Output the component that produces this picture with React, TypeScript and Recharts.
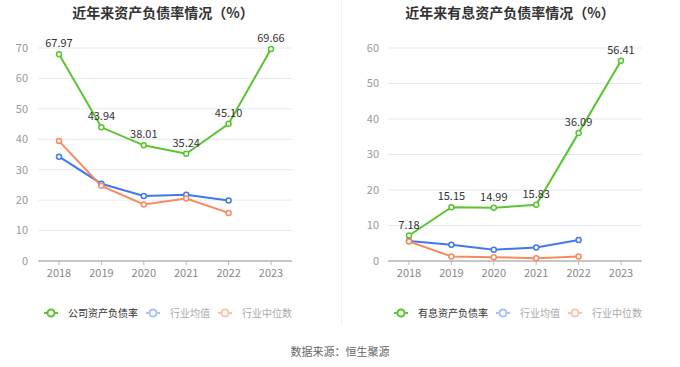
import { LineChart, Line, XAxis, YAxis, CartesianGrid, LabelList } from "recharts";

const years = ["2018", "2019", "2020", "2021", "2022", "2023"];

const debtRatio = [67.97, 43.94, 38.01, 35.24, 45.1, 69.66];
const debtAvg = [34.3, 25.4, 21.4, 21.8, 19.9, null];
const debtMedian = [39.4, 24.7, 18.6, 20.5, 15.8, null];

const interestRatio = [7.18, 15.15, 14.99, 15.83, 36.09, 56.41];
const interestAvg = [5.6, 4.6, 3.2, 3.8, 5.9, null];
const interestMedian = [5.5, 1.3, 1.05, 0.8, 1.3, null];

const leftTicks = [0, 10, 20, 30, 40, 50, 60, 70];
const rightTicks = [0, 10, 20, 30, 40, 50, 60];

const FONT = '"Noto Sans CJK SC", "Noto Sans", sans-serif';
const GREEN = "#5ac52f";
const BLUE = "#4178ee";
const ORANGE = "#f98a5e";

function buildRows(main: number[], avg: (number | null)[], median: (number | null)[]) {
  return years.map((year, i) => ({ year, main: main[i], avg: avg[i], median: median[i] }));
}

function LegendIcon({ color }: { color: string }) {
  return (
    <svg width={14} height={10} style={{ marginRight: 10 }}>
      <line x1={0} y1={5} x2={14} y2={5} stroke={color} strokeWidth={2} />
      <circle cx={7} cy={5} r={3.5} fill="#fff" stroke={color} strokeWidth={2} />
    </svg>
  );
}

function Panel({
  left,
  title,
  titleCenter,
  mainName,
  rows,
  ticks,
  legendLeft,
  yWidth,
  yMargin,
}: {
  left: number;
  title: string;
  titleCenter: number;
  mainName: string;
  rows: { year: string; main: number; avg: number | null; median: number | null }[];
  ticks: number[];
  legendLeft: number;
  yWidth: number;
  yMargin: number;
}) {
  const max = ticks[ticks.length - 1];
  return (
    <div style={{ position: "absolute", left, top: 0, width: 340, height: 367 }}>
      <div
        style={{
          position: "absolute",
          left: titleCenter - 150,
          width: 300,
          top: 2,
          textAlign: "center",
          fontSize: 14,
          fontWeight: "bold",
          color: "#333",
          whiteSpace: "nowrap",
        }}
      >
        {title}
      </div>
      <LineChart
        width={340}
        height={367}
        data={rows}
        margin={{ top: 48, right: 86 - yWidth, left: 0, bottom: 76 }}
        style={{ fontFamily: FONT }}
      >
        <CartesianGrid stroke="#e5e9f3" vertical={false} />
        <XAxis
          dataKey="year"
          padding={{ left: 21, right: 21 }}
          tick={{ fontSize: 11, fill: "#888" }}
          tickSize={4}
          tickMargin={4}
          stroke="#b8b8b8"
          tickLine={{ stroke: "#b8b8b8" }}
          axisLine={{ stroke: "#b8b8b8", strokeWidth: 1.5 }}
        />
        <YAxis
          width={yWidth}
          domain={[0, max]}
          ticks={ticks}
          interval={0}
          axisLine={false}
          tickLine={false}
          tickSize={0}
          tickMargin={yMargin}
          tick={{ fontSize: 11, fill: "#999" }}
        />
        <Line
          dataKey="avg"
          stroke={BLUE}
          strokeWidth={2}
          dot={{ r: 2.5, fill: "#fff", stroke: BLUE, strokeWidth: 1.5 }}
          activeDot={false}
          isAnimationActive={false}
        />
        <Line
          dataKey="median"
          stroke={ORANGE}
          strokeWidth={2}
          dot={{ r: 2.5, fill: "#fff", stroke: ORANGE, strokeWidth: 1.5 }}
          activeDot={false}
          isAnimationActive={false}
        />
        <Line
          dataKey="main"
          stroke={GREEN}
          strokeWidth={2}
          dot={{ r: 2.5, fill: "#fff", stroke: GREEN, strokeWidth: 1.5 }}
          activeDot={false}
          isAnimationActive={false}
        >
          <LabelList
            dataKey="main"
            position="top"
            offset={7}
            fontSize={11}
            fill="#333"
            formatter={(v: number) => v.toFixed(2)}
          />
        </Line>
      </LineChart>
      <div
        style={{
          position: "absolute",
          left: legendLeft,
          top: 305,
          display: "flex",
          alignItems: "center",
          fontSize: 10,
          fontFamily: FONT,
          whiteSpace: "nowrap",
        }}
      >
        <LegendIcon color={GREEN} />
        <span style={{ color: "#333", marginRight: 8 }}>{mainName}</span>
        <LegendIcon color="#a9c2f6" />
        <span style={{ color: "#aaa", marginRight: 8 }}>行业均值</span>
        <LegendIcon color="#fbc4ae" />
        <span style={{ color: "#aaa" }}>行业中位数</span>
      </div>
    </div>
  );
}

export default function App() {
  return (
    <div
      style={{
        position: "absolute",
        left: 0,
        top: 0,
        width: 680,
        height: 367,
        background: "#fff",
        fontFamily: FONT,
      }}
    >
      <Panel
        left={0}
        title="近年来资产负债率情况（%）"
        titleCenter={163}
        mainName="公司资产负债率"
        rows={buildRows(debtRatio, debtAvg, debtMedian)}
        ticks={leftTicks}
        legendLeft={44}
        yWidth={38}
        yMargin={10}
      />
      <div style={{ position: "absolute", left: 341, top: 0, width: 1, height: 325, background: "#f0f0f0" }} />
      <Panel
        left={340}
        title="近年来有息资产负债率情况（%）"
        titleCenter={170}
        mainName="有息资产负债率"
        rows={buildRows(interestRatio, interestAvg, interestMedian)}
        ticks={rightTicks}
        legendLeft={54}
        yWidth={48}
        yMargin={9}
      />
      <div
        style={{
          position: "absolute",
          left: 0,
          width: 680,
          top: 343,
          textAlign: "center",
          fontSize: 11,
          color: "#666",
        }}
      >
        数据来源：恒生聚源
      </div>
    </div>
  );
}
